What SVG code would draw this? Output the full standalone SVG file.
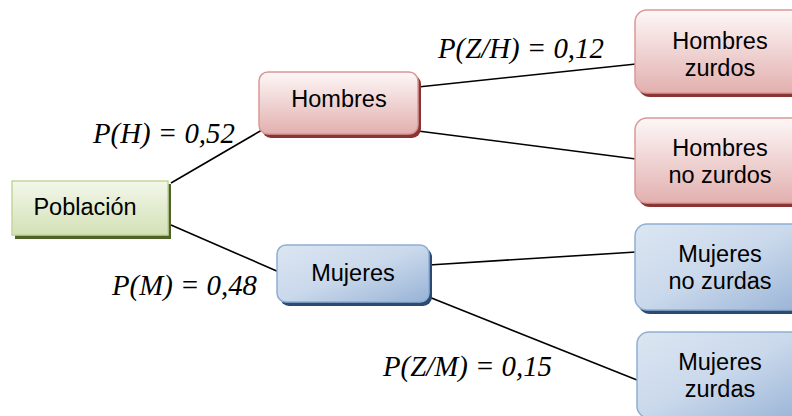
<svg xmlns="http://www.w3.org/2000/svg" width="792" height="416" viewBox="0 0 792 416">
<defs>
<linearGradient id="gRed" x1="0" y1="0" x2="0" y2="1">
<stop offset="0" stop-color="#fdf7f7"/>
<stop offset="1" stop-color="#e2b0af"/>
</linearGradient>
<linearGradient id="gBlue" x1="0" y1="0" x2="1" y2="1">
<stop offset="0" stop-color="#dce6f2"/>
<stop offset="0.5" stop-color="#c9d8eb"/>
<stop offset="1" stop-color="#98b3d6"/>
</linearGradient>
<linearGradient id="gGreen" x1="0" y1="0" x2="0" y2="1">
<stop offset="0" stop-color="#f3f7ea"/>
<stop offset="1" stop-color="#d3e1b7"/>
</linearGradient>
</defs>
<style>
.red{fill:url(#gRed);stroke:#d99897;stroke-width:1.5}
.redS{fill:#8a3533}
.blue{fill:url(#gBlue);stroke:#8eaed4;stroke-width:1.5}
.blueS{fill:#2b4a72}
.green{fill:url(#gGreen);stroke:#c3d69b;stroke-width:1.5}
.greenS{fill:#4f6228}
.nt{font-family:"Liberation Sans",Arial,sans-serif;font-size:23.5px;fill:#000;text-anchor:middle}
.pl{font-family:"Liberation Serif","Times New Roman",serif;font-style:italic;font-size:28.8px;fill:#000}
.con{stroke:#000;stroke-width:1.6;fill:none}
</style>
<g id="connectors">
<line class="con" x1="171" y1="183" x2="262" y2="130"/>
<line class="con" x1="171" y1="225" x2="279" y2="272"/>
<line class="con" x1="418" y1="87" x2="636" y2="64"/>
<line class="con" x1="418" y1="131" x2="636" y2="159"/>
<line class="con" x1="429" y1="265" x2="636" y2="252"/>
<line class="con" x1="429" y1="297" x2="637" y2="380"/>
</g>
<g id="poblacion">
<rect class="greenS" x="15" y="184" width="156" height="55"/>
<rect class="green" x="12" y="181" width="156" height="54"/>
<text class="nt" x="85" y="215">Población</text>
</g>
<g id="hombres">
<rect class="redS" x="262" y="75" width="159" height="63" rx="9"/>
<rect class="red" x="259" y="72" width="159" height="62" rx="9"/>
<text class="nt" x="339" y="107">Hombres</text>
</g>
<g id="mujeres">
<rect class="blueS" x="280" y="248" width="152" height="58" rx="9"/>
<rect class="blue" x="277" y="245" width="152" height="57" rx="9"/>
<text class="nt" x="353" y="281">Mujeres</text>
</g>
<g id="hombres-zurdos">
<rect class="redS" x="638" y="13" width="170" height="84" rx="12"/>
<rect class="red" x="635" y="10" width="170" height="83" rx="12"/>
<text class="nt" x="720" y="49">Hombres</text>
<text class="nt" x="720" y="76">zurdos</text>
</g>
<g id="hombres-no-zurdos">
<rect class="redS" x="638" y="121" width="170" height="86" rx="12"/>
<rect class="red" x="635" y="118" width="170" height="85" rx="12"/>
<text class="nt" x="720" y="156">Hombres</text>
<text class="nt" x="720" y="183">no zurdos</text>
</g>
<g id="mujeres-no-zurdas">
<rect class="blueS" x="638" y="227" width="170" height="87" rx="12"/>
<rect class="blue" x="635" y="224" width="170" height="86" rx="12"/>
<text class="nt" x="720" y="262">Mujeres</text>
<text class="nt" x="720" y="289">no zurdas</text>
</g>
<g id="mujeres-zurdas">
<rect class="blueS" x="640" y="335" width="170" height="87" rx="12"/>
<rect class="blue" x="637" y="332" width="170" height="86" rx="12"/>
<text class="nt" x="720" y="370">Mujeres</text>
<text class="nt" x="720" y="397">zurdas</text>
</g>
<g id="labels">
<text class="pl" x="93" y="143">P(H) = 0,52</text>
<text class="pl" x="438" y="58">P(Z/H) = 0,12</text>
<text class="pl" x="112" y="295">P(M) = 0,48</text>
<text class="pl" x="383" y="376">P(Z/M) = 0,15</text>
</g>
</svg>
